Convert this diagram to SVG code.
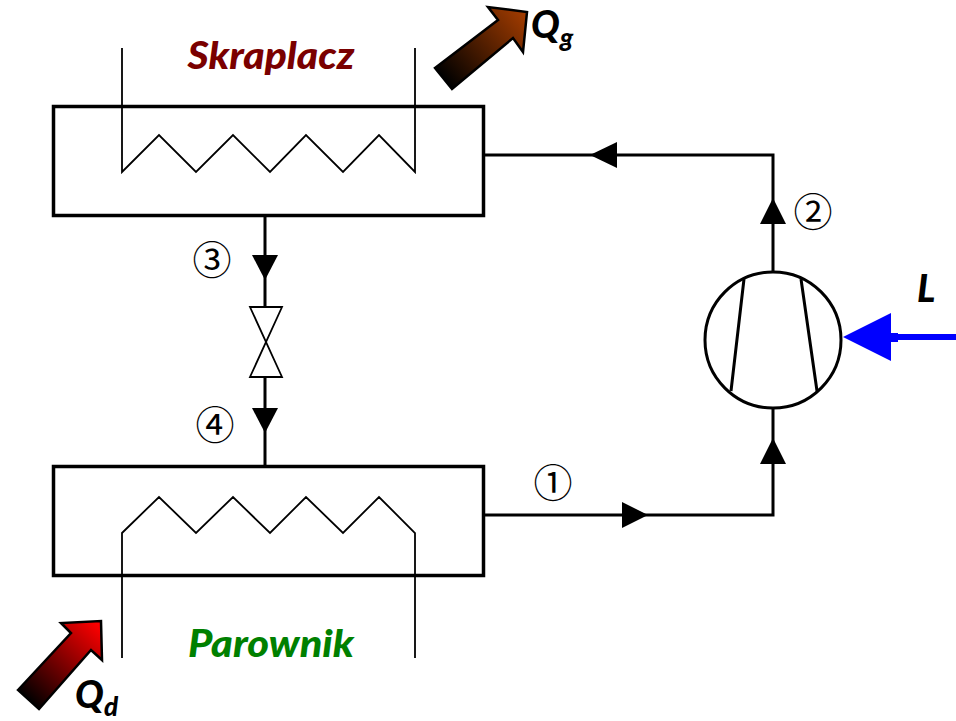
<svg xmlns="http://www.w3.org/2000/svg" width="956" height="721" viewBox="0 0 956 721">
<style>
.box{fill:#fff;stroke:#000;stroke-width:3.5}
.coil{fill:none;stroke:#000;stroke-width:1.8}
.pipe{fill:none;stroke:#000;stroke-width:3}
.head{fill:#000}
.lab{font-family:Lato,"Open Sans",sans-serif;font-weight:900;font-style:italic}
.num{font-family:"Noto Sans CJK JP","DejaVu Sans",sans-serif;font-weight:400;font-size:39px;fill:#000}
.big{stroke:#000;stroke-width:2.5}
</style>
<defs>
<linearGradient id="gg" gradientUnits="userSpaceOnUse" x1="445" y1="80" x2="525" y2="12"><stop offset="0" stop-color="#000"/><stop offset="1" stop-color="#a33c00"/></linearGradient>
<linearGradient id="gd" gradientUnits="userSpaceOnUse" x1="28" y1="700" x2="100" y2="625"><stop offset="0" stop-color="#000"/><stop offset="1" stop-color="#ff0000"/></linearGradient>
</defs>
<rect width="956" height="721" fill="#fff"/>
<g id="connectors">
<path class="pipe" d="M484 155H773V272"/>
<path class="pipe" d="M265 216V306M265 378V466"/>
<path class="pipe" d="M484 515H773V409"/>
<polygon class="head" points="590,155 617,142 617,168"/>
<polygon class="head" points="773,198 760,224 786,224"/>
<polygon class="head" points="773,438 760,464 786,464"/>
<polygon class="head" points="648,515 622,502 622,528"/>
<polygon class="head" points="265,280 252,255 278,255"/>
<polygon class="head" points="265,433 252,408 278,408"/>
</g>
<g id="skraplacz">
<rect class="box" x="53.500" y="106.500" width="430" height="109"/>
<path class="coil" d="M122 48V172L159 135L196 172L233 135L270 172L306 135L343 172L379 135L415 172V48"/>
<text class="lab" x="271" y="69" font-size="37" fill="#7a0000" text-anchor="middle" textLength="167" lengthAdjust="spacingAndGlyphs">Skraplacz</text>
</g>
<g id="parownik">
<rect class="box" x="53.500" y="466.500" width="430" height="109"/>
<path class="coil" d="M122 658V533L159 497L196 533L233 497L270 533L306 497L343 533L379 497L415 533V658"/>
<text class="lab" x="271" y="657" font-size="37" fill="#008000" text-anchor="middle" textLength="166" lengthAdjust="spacingAndGlyphs">Parownik</text>
</g>
<g id="zawor">
<path fill="#fff" stroke="#000" stroke-width="1.800" d="M250 307H282L250 377H282Z"/>
</g>
<g id="sprezarka">
<circle cx="773" cy="340" r="68" fill="#fff" stroke="#000" stroke-width="3"/>
<path fill="none" stroke="#000" stroke-width="3" d="M744 279L731 391M801 279L817 391"/>
</g>
<g id="qg">
<polygon class="big" fill="url(#gg)" points="435,68 498,20 488,7 527,12 523,52 513,38 452,89"/>
<text class="lab" x="531" y="38" font-size="38" fill="#000">Q</text>
<text class="lab" x="560" y="47" font-size="26" fill="#000">g</text>
</g>
<g id="qd">
<polygon class="big" fill="url(#gd)" points="18,690 71,633 61,623 101,621 102,660 91,650 39,709"/>
<text class="lab" x="75" y="708" font-size="38" fill="#000">Q</text>
<text class="lab" x="104" y="716" font-size="26" fill="#000">d</text>
</g>
<g id="praca">
<path fill="none" stroke="#0000ff" stroke-width="6" d="M885 337H956"/>
<polygon fill="#0000ff" points="843,337 891,313 891,361"/>
<rect x="890" y="333" width="8" height="9" fill="#0000ff"/>
<text class="lab" x="917" y="302" font-size="38" fill="#000">L</text>
</g>
<g id="stany">
<text class="num" x="553" y="497" text-anchor="middle">①</text>
<text class="num" x="813" y="226" text-anchor="middle">②</text>
<text class="num" x="212" y="274" text-anchor="middle">③</text>
<text class="num" x="215" y="439" text-anchor="middle">④</text>
</g>
</svg>
